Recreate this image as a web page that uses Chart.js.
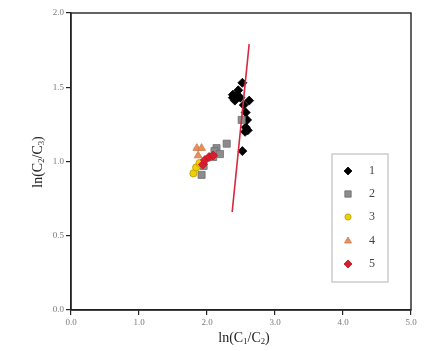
<!DOCTYPE html>
<html>
<head>
<meta charset="utf-8">
<script src="https://cdn.jsdelivr.net/npm/chart.js@4/dist/chart.umd.min.js"></script>
<style>
  html, body { margin: 0; padding: 0; background: #fff; }
</style>
</head>
<body>
<canvas id="chart" width="433" height="351"></canvas>
<script>
// datos
const xTicks = [0, 1, 2, 3, 4, 5];
const yTicks = [0, 0.5, 1, 1.5, 2];
const labels = ["1", "2", "3", "4", "5"];

const g1x = [2.52, 2.46, 2.38, 2.44, 2.38, 2.41, 2.49, 2.62, 2.54, 2.57, 2.59, 2.57, 2.60, 2.56, 2.52];
const g1y = [1.53, 1.48, 1.45, 1.45, 1.43, 1.41, 1.43, 1.41, 1.38, 1.33, 1.28, 1.23, 1.21, 1.20, 1.07];

const g2x = [2.51, 2.29, 2.14, 2.11, 2.19, 2.09, 1.95, 1.92];
const g2y = [1.28, 1.12, 1.09, 1.07, 1.05, 1.03, 0.97, 0.91];

const g3x = [1.80, 1.84, 1.89];
const g3y = [0.92, 0.96, 0.99];

const g4x = [1.85, 1.92, 1.87];
const g4y = [1.09, 1.09, 1.04];

const g5x = [1.94, 1.97, 2.03, 2.09];
const g5y = [0.98, 1.01, 1.03, 1.04];

const lineX = [2.37, 2.62];
const lineY = [0.66, 1.79];

const pts = (xs, ys) => xs.map((x, i) => ({ x: x, y: ys[i] }));

const estilos = [
  { style: 'rectRot', r: 4.5, fill: '#000000', border: '#000000' },
  { style: 'rect', r: 5, fill: '#8c8c8c', border: '#6e6e6e' },
  { style: 'circle', r: 3.6, fill: '#f0d000', border: '#b89a00' },
  { style: 'triangle', r: 4.5, fill: '#e8905c', border: '#d07848' },
  { style: 'rectRot', r: 4.5, fill: '#d81e2e', border: '#c01020' }
];

const series = [pts(g1x, g1y), pts(g2x, g2y), pts(g3x, g3y), pts(g4x, g4y), pts(g5x, g5y)];

const datasets = series.map((d, i) => ({
  label: labels[i],
  data: d,
  pointStyle: estilos[i].style,
  pointRadius: estilos[i].r,
  pointBackgroundColor: estilos[i].fill,
  pointBorderColor: estilos[i].border,
  pointBorderWidth: 0.8,
  showLine: false,
  order: 5 - i
}));

datasets.push({
  label: 'linea',
  data: pts(lineX, lineY),
  showLine: true,
  borderColor: '#d8283f',
  borderWidth: 1.6,
  pointRadius: 0,
  order: -1
});

// texto con subíndices
function textoSub(ctx, partes, size) {
  let w = 0;
  partes.forEach(p => {
    ctx.font = (p.sub ? size * 0.62 : size) + 'px "Liberation Serif"';
    w += ctx.measureText(p.t).width;
  });
  return w;
}
function dibujarSub(ctx, partes, size) {
  const w = textoSub(ctx, partes, size);
  let x = -w / 2;
  partes.forEach(p => {
    ctx.font = (p.sub ? size * 0.62 : size) + 'px "Liberation Serif"';
    ctx.fillText(p.t, x, p.sub ? size * 0.28 : 0);
    x += ctx.measureText(p.t).width;
  });
}

const extras = {
  id: 'extras',
  afterDatasetsDraw(chart) {
    const ctx = chart.ctx;
    const a = chart.chartArea;
    ctx.save();
    // marco
    ctx.strokeStyle = '#222';
    ctx.lineWidth = 1.4;
    ctx.strokeRect(a.left, a.top, a.right - a.left, a.bottom - a.top);

    // títulos de ejes
    ctx.fillStyle = '#222';
    ctx.textBaseline = 'middle';
    ctx.textAlign = 'left';
    ctx.save();
    ctx.translate(244, 338);
    dibujarSub(ctx, [{ t: 'ln(C' }, { t: '1', sub: true }, { t: '/C' }, { t: '2', sub: true }, { t: ')' }], 14);
    ctx.restore();
    ctx.save();
    ctx.translate(38, 162);
    ctx.rotate(-Math.PI / 2);
    dibujarSub(ctx, [{ t: 'ln(C' }, { t: '2', sub: true }, { t: '/C' }, { t: '3', sub: true }, { t: ')' }], 14);
    ctx.restore();

    // leyenda
    ctx.strokeStyle = '#cccccc';
    ctx.lineWidth = 1.5;
    ctx.strokeRect(332, 154, 56, 128);
    const ys = [171, 194, 217, 241, 264];
    labels.forEach((lab, i) => {
      const e = estilos[i];
      ctx.fillStyle = e.fill;
      ctx.strokeStyle = e.border;
      ctx.lineWidth = 0.8;
      Chart.helpers.drawPoint(ctx, { pointStyle: e.style, radius: e.r - 0.5, rotation: 0, borderWidth: 0.8 }, 348, ys[i]);
      ctx.fillStyle = '#444';
      ctx.font = '12px "Liberation Serif"';
      ctx.textAlign = 'left';
      ctx.fillText(lab, 369, ys[i]);
    });
    ctx.restore();
  }
};

const ejeComun = {
  type: 'linear',
  grid: { drawOnChartArea: false, drawTicks: true, tickLength: 5, color: '#222', lineWidth: 1.2 },
  border: { display: true, color: '#222', width: 1.4 },
  ticks: {
    color: '#7a7a7a',
    font: { family: '"Liberation Serif"', size: 9 },
    padding: 2,
    callback: v => v.toFixed(1)
  }
};

new Chart(document.getElementById('chart'), {
  type: 'scatter',
  data: { datasets: datasets },
  options: {
    responsive: false,
    animation: false,
    layout: { padding: { left: 0, right: 22, top: 13, bottom: 0 } },
    plugins: { legend: { display: false }, tooltip: { enabled: false } },
    scales: {
      x: Object.assign({}, ejeComun, {
        min: 0, max: 5,
        afterBuildTicks: ax => { ax.ticks = xTicks.map(v => ({ value: v })); },
        afterFit: ax => { ax.height = 41; },
        ticks: Object.assign({}, ejeComun.ticks, { maxRotation: 0 })
      }),
      y: Object.assign({}, ejeComun, {
        min: 0, max: 2,
        afterBuildTicks: ax => { ax.ticks = yTicks.map(v => ({ value: v })); },
        afterFit: ax => { ax.width = 71; }
      })
    }
  },
  plugins: [extras]
});
</script>
</body>
</html>
